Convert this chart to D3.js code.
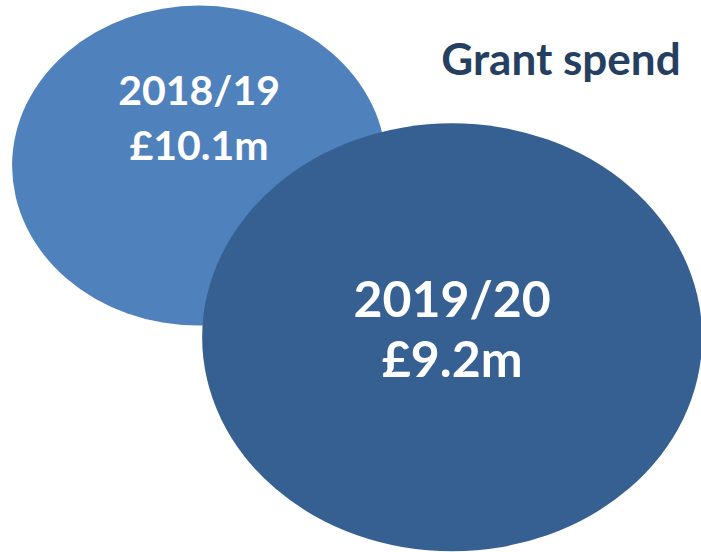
<!DOCTYPE html>
<html>
<head>
<meta charset="utf-8">
<script src="https://cdn.jsdelivr.net/npm/d3@7"></script>
<style>
  html, body { margin: 0; padding: 0; background: #fff; }
  svg { display: block; }
</style>
</head>
<body>
<svg id="chart" width="701" height="552"></svg>
<script>
// data
const years = ['2018/19', '2019/20']
const spend = [10.1, 9.2]
const title = 'Grant spend'

const width = 701, height = 552
const svg = d3.select('#chart')

// layout of the two bubbles (relative position in the frame)
const layout = [
    { cx: 0.284, cy: 0.300, rx: 187, ry: 160, fill: '#4f81bd', size: 41, gap: 55, top: -61 },
    { cx: 0.645, cy: 0.611, rx: 250, ry: 214, fill: '#376092', size: 50, gap: 60, top: -20 }
]

const x = d3.scaleLinear().domain([0, 1]).range([0, width])
const y = d3.scaleLinear().domain([0, 1]).range([0, height])
const fmt = d => '£' + d3.format('.1f')(d) + 'm'

const bubbles = years.map((yr, i) => ({ year: yr, value: spend[i], ...layout[i] }))

const g = svg.append('g')
    .selectAll('g')
    .data(bubbles)
    .join('g')

g.append('ellipse')
    .attr('cx', d => x(d.cx))
    .attr('cy', d => y(d.cy))
    .attr('rx', d => d.rx)
    .attr('ry', d => d.ry)
    .attr('fill', d => d.fill)

g.append('text')
    .attr('x', d => x(d.cx))
    .attr('y', d => y(d.cy) + d.top)
    .attr('text-anchor', 'middle')
    .attr('fill', '#fff')
    .attr('font-family', 'Lato, "Open Sans", sans-serif')
    .attr('font-weight', 'bold')
    .attr('font-size', d => d.size)
    .text(d => d.year)

g.append('text')
    .attr('x', d => x(d.cx))
    .attr('y', d => y(d.cy) + d.top + d.gap)
    .attr('text-anchor', 'middle')
    .attr('fill', '#fff')
    .attr('font-family', 'Lato, "Open Sans", sans-serif')
    .attr('font-weight', 'bold')
    .attr('font-size', d => d.size)
    .text(d => fmt(d.value))

svg.append('text')
    .attr('x', 561)
    .attr('y', 75)
    .attr('text-anchor', 'middle')
    .attr('fill', '#243f60')
    .attr('font-family', 'Lato, "Open Sans", sans-serif')
    .attr('font-weight', 'bold')
    .attr('font-size', 44)
    .text(title)
</script>
</body>
</html>
